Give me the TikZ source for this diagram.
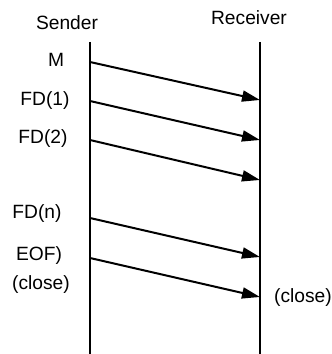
\documentclass[tikz,border=0pt]{standalone}
\usepackage{fontspec}
\setmainfont{Liberation Sans}
\usepackage{tikz}
\usetikzlibrary{arrows.meta}

\begin{document}
\begin{tikzpicture}[x = 0.5pt, y = 0.5pt, font = \fontsize{9.6}{11.5}\selectfont]
			\def\xS{90};
			\def\xR{260};
			\def\yTOP{312};
			\def\yBOT{0};

			\useasboundingbox (0,0) rectangle (332,354);

			\tikzset{
				msg/.style = {line width = 1pt, -{Triangle[length = 9pt, width = 5.5pt]}},
				lifeline/.style = {line width = 1pt}
			}

			\begin{scope}
				\node (sender) at (67,331) {Sender};
				\node (receiver) at (249,336) {Receiver};

				\coordinate (sTop) at (\xS,\yTOP);
				\coordinate (sBot) at (\xS,\yBOT);
				\coordinate (rTop) at (\xR,\yTOP);
				\coordinate (rBot) at (\xR,\yBOT);

				\draw [lifeline] (sTop) -- (sBot);
				\draw [lifeline] (rTop) -- (rBot);
			\end{scope}

			\begin{scope}
				\node (lM) at (56,294) {M};
				\node (lFDa) at (45,253) {FD(1)};
				\node (lFDb) at (43,215) {FD(2)};
				\node (lFDn) at (37,140) {FD(n)};
				\node (lEOF) at (39,98) {EOF)};
				\node (lCloseS) at (41,69) {(close)};
				\node (lCloseR) at (303,56) {(close)};
			\end{scope}

			\begin{scope}
				\coordinate (sM) at (\xS,292);
				\coordinate (rM) at (\xR,254);
				\coordinate (sFDa) at (\xS,253);
				\coordinate (rFDa) at (\xR,214);
				\coordinate (sFDb) at (\xS,214);
				\coordinate (rFDb) at (\xR,174);
				\coordinate (sFDn) at (\xS,136);
				\coordinate (rFDn) at (\xR,97);
				\coordinate (sEOF) at (\xS,96);
				\coordinate (rEOF) at (\xR,57);
			\end{scope}

			\begin{scope}[msg]
				\draw (sM) -- (rM);
				\draw (sFDa) -- (rFDa);
				\draw (sFDb) -- (rFDb);
				\draw (sFDn) -- (rFDn);
				\draw (sEOF) -- (rEOF);
			\end{scope}
		\end{tikzpicture}
\end{document}
